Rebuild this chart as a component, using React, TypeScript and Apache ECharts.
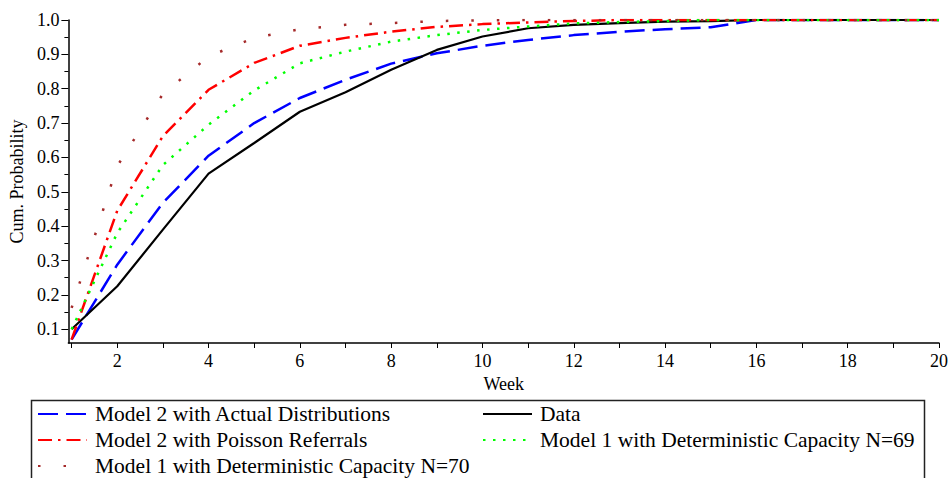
import React, { useEffect, useRef } from "react";
import * as echarts from "echarts";

const weeks = [1, 2, 3, 4, 5, 6, 7, 8, 9, 10, 11, 12, 13, 14, 15, 16, 17, 18, 19, 20];
const xLabelValues = [2, 4, 6, 8, 10, 12, 14, 16, 18, 20];
const yLabelValues = [0.1, 0.2, 0.3, 0.4, 0.5, 0.6, 0.7, 0.8, 0.9, 1.0];
const yMinorValues = [0.15, 0.25, 0.35, 0.45, 0.55, 0.65, 0.75, 0.85, 0.95];

const nameActual = "Model 2 with Actual Distributions";
const nameData = "Data";
const namePoisson = "Model 2 with Poisson Referrals";
const nameN69 = "Model 1 with Deterministic Capacity N=69";
const nameN70 = "Model 1 with Deterministic Capacity N=70";

const actualDist = [0.07, 0.288, 0.468, 0.605, 0.7, 0.773, 0.826, 0.873, 0.903, 0.925, 0.942, 0.956, 0.966, 0.973, 0.979, 1.0, 1.0, 1.0, 1.0, 1.0];
const dataValues = [0.1, 0.225, 0.39, 0.553, 0.642, 0.733, 0.79, 0.855, 0.913, 0.952, 0.976, 0.986, 0.991, 0.995, 0.997, 1.0, 1.0, 1.0, 1.0, 1.0];
const poisson = [0.07, 0.445, 0.662, 0.797, 0.875, 0.925, 0.948, 0.966, 0.98, 0.988, 0.993, 0.997, 1.0, 1.0, 1.0, 1.0, 1.0, 1.0, 1.0, 1.0];
const capN69 = [0.1, 0.38, 0.578, 0.695, 0.795, 0.874, 0.908, 0.937, 0.956, 0.971, 0.981, 0.99, 0.994, 0.997, 1.0, 1.0, 1.0, 1.0, 1.0, 1.0];
const capN70 = [0.162, 0.575, 0.785, 0.894, 0.948, 0.973, 0.986, 0.991, 0.997, 0.999, 1.0, 1.0, 1.0, 1.0, 1.0, 1.0, 1.0, 1.0, 1.0, 1.0];

const FONT = "Liberation Serif";

const pairs = (vals: number[]) => weeks.map((w, i) => [w, vals[i]]);

export default function App() {
  const ref = useRef<HTMLDivElement>(null);
  useEffect(() => {
    const chart = echarts.init(ref.current!, null, { renderer: "svg" });
    const legendText = { fontSize: 21.5, fontFamily: FONT, color: "#000", lineHeight: 21, padding: [0, 0, 0, 3] };
    const lineSeries = (name: string, vals: number[], color: string, width: number, type: any) => ({
      name,
      type: "line",
      data: pairs(vals),
      symbol: "none",
      showSymbol: false,
      lineStyle: { color, width, type, cap: "butt" },
      itemStyle: { color },
    });
    const legendBase = {
      top: 403,
      orient: "vertical",
      itemWidth: 49,
      itemHeight: 14,
      itemGap: 4,
      padding: 0,
      selectedMode: false,
      itemStyle: { opacity: 0 },
      textStyle: legendText,
    };
    chart.setOption({
      animation: false,
      backgroundColor: "#fff",
      grid: { left: 64, right: 10, top: 20, bottom: 135, containLabel: false },
      xAxis: {
        type: "value",
        min: 0.93,
        max: 20,
        name: "Week",
        nameLocation: "middle",
        nameGap: 30,
        nameTextStyle: { fontSize: 18, fontFamily: FONT, color: "#000" },
        axisLine: { show: true, lineStyle: { color: "#000", width: 1.5 } },
        axisTick: { show: true, customValues: weeks, length: 5, lineStyle: { color: "#000", width: 1 } },
        axisLabel: { customValues: xLabelValues, fontSize: 18, fontFamily: FONT, color: "#000", margin: 9 },
        splitLine: { show: false },
      },
      yAxis: [
        {
          type: "value",
          min: 0.06,
          max: 1.0,
          name: "Cum. Probability",
          nameLocation: "middle",
          nameGap: 33,
          nameTextStyle: { fontSize: 18, fontFamily: FONT, color: "#000" },
          axisLine: { show: true, lineStyle: { color: "#000", width: 1.5 } },
          axisTick: { show: true, customValues: yLabelValues, length: 7, lineStyle: { color: "#000", width: 1 } },
          axisLabel: {
            customValues: yLabelValues,
            fontSize: 18,
            fontFamily: FONT,
            color: "#000",
            margin: 9,
            formatter: (v: number) => v.toFixed(1),
          },
          splitLine: { show: false },
        },
        {
          type: "value",
          min: 0.06,
          max: 1.0,
          position: "left",
          axisLine: { show: false },
          axisTick: { show: true, customValues: yMinorValues, length: 4, lineStyle: { color: "#000", width: 1 } },
          axisLabel: { show: false },
          splitLine: { show: false },
        },
      ],
      legend: [
        { ...legendBase, data: [nameActual, namePoisson, nameN70], left: 37 },
        { ...legendBase, data: [nameData, nameN69], left: 482 },
      ],
      graphic: [
        {
          type: "rect",
          shape: { x: 31.5, y: 400.5, width: 893, height: 120 },
          style: { fill: "none", stroke: "#222", lineWidth: 1.5 },
          silent: true,
        },
      ],
      series: [
        lineSeries(nameActual, actualDist, "#0000ff", 2.5, [20, 8]),
        lineSeries(nameData, dataValues, "#000000", 2.2, "solid"),
        lineSeries(namePoisson, poisson, "#ff0000", 2.5, [14, 6, 2.5, 6]),
        lineSeries(nameN69, capN69, "#00ff00", 2.5, [2.5, 7.5]),
        lineSeries(nameN70, capN70, "#a52a2a", 2.5, [2.5, 23]),
      ],
    });
    return () => chart.dispose();
  }, []);
  return <div ref={ref} style={{ position: "fixed", left: 0, top: 0, width: 951, height: 478 }} />;
}
